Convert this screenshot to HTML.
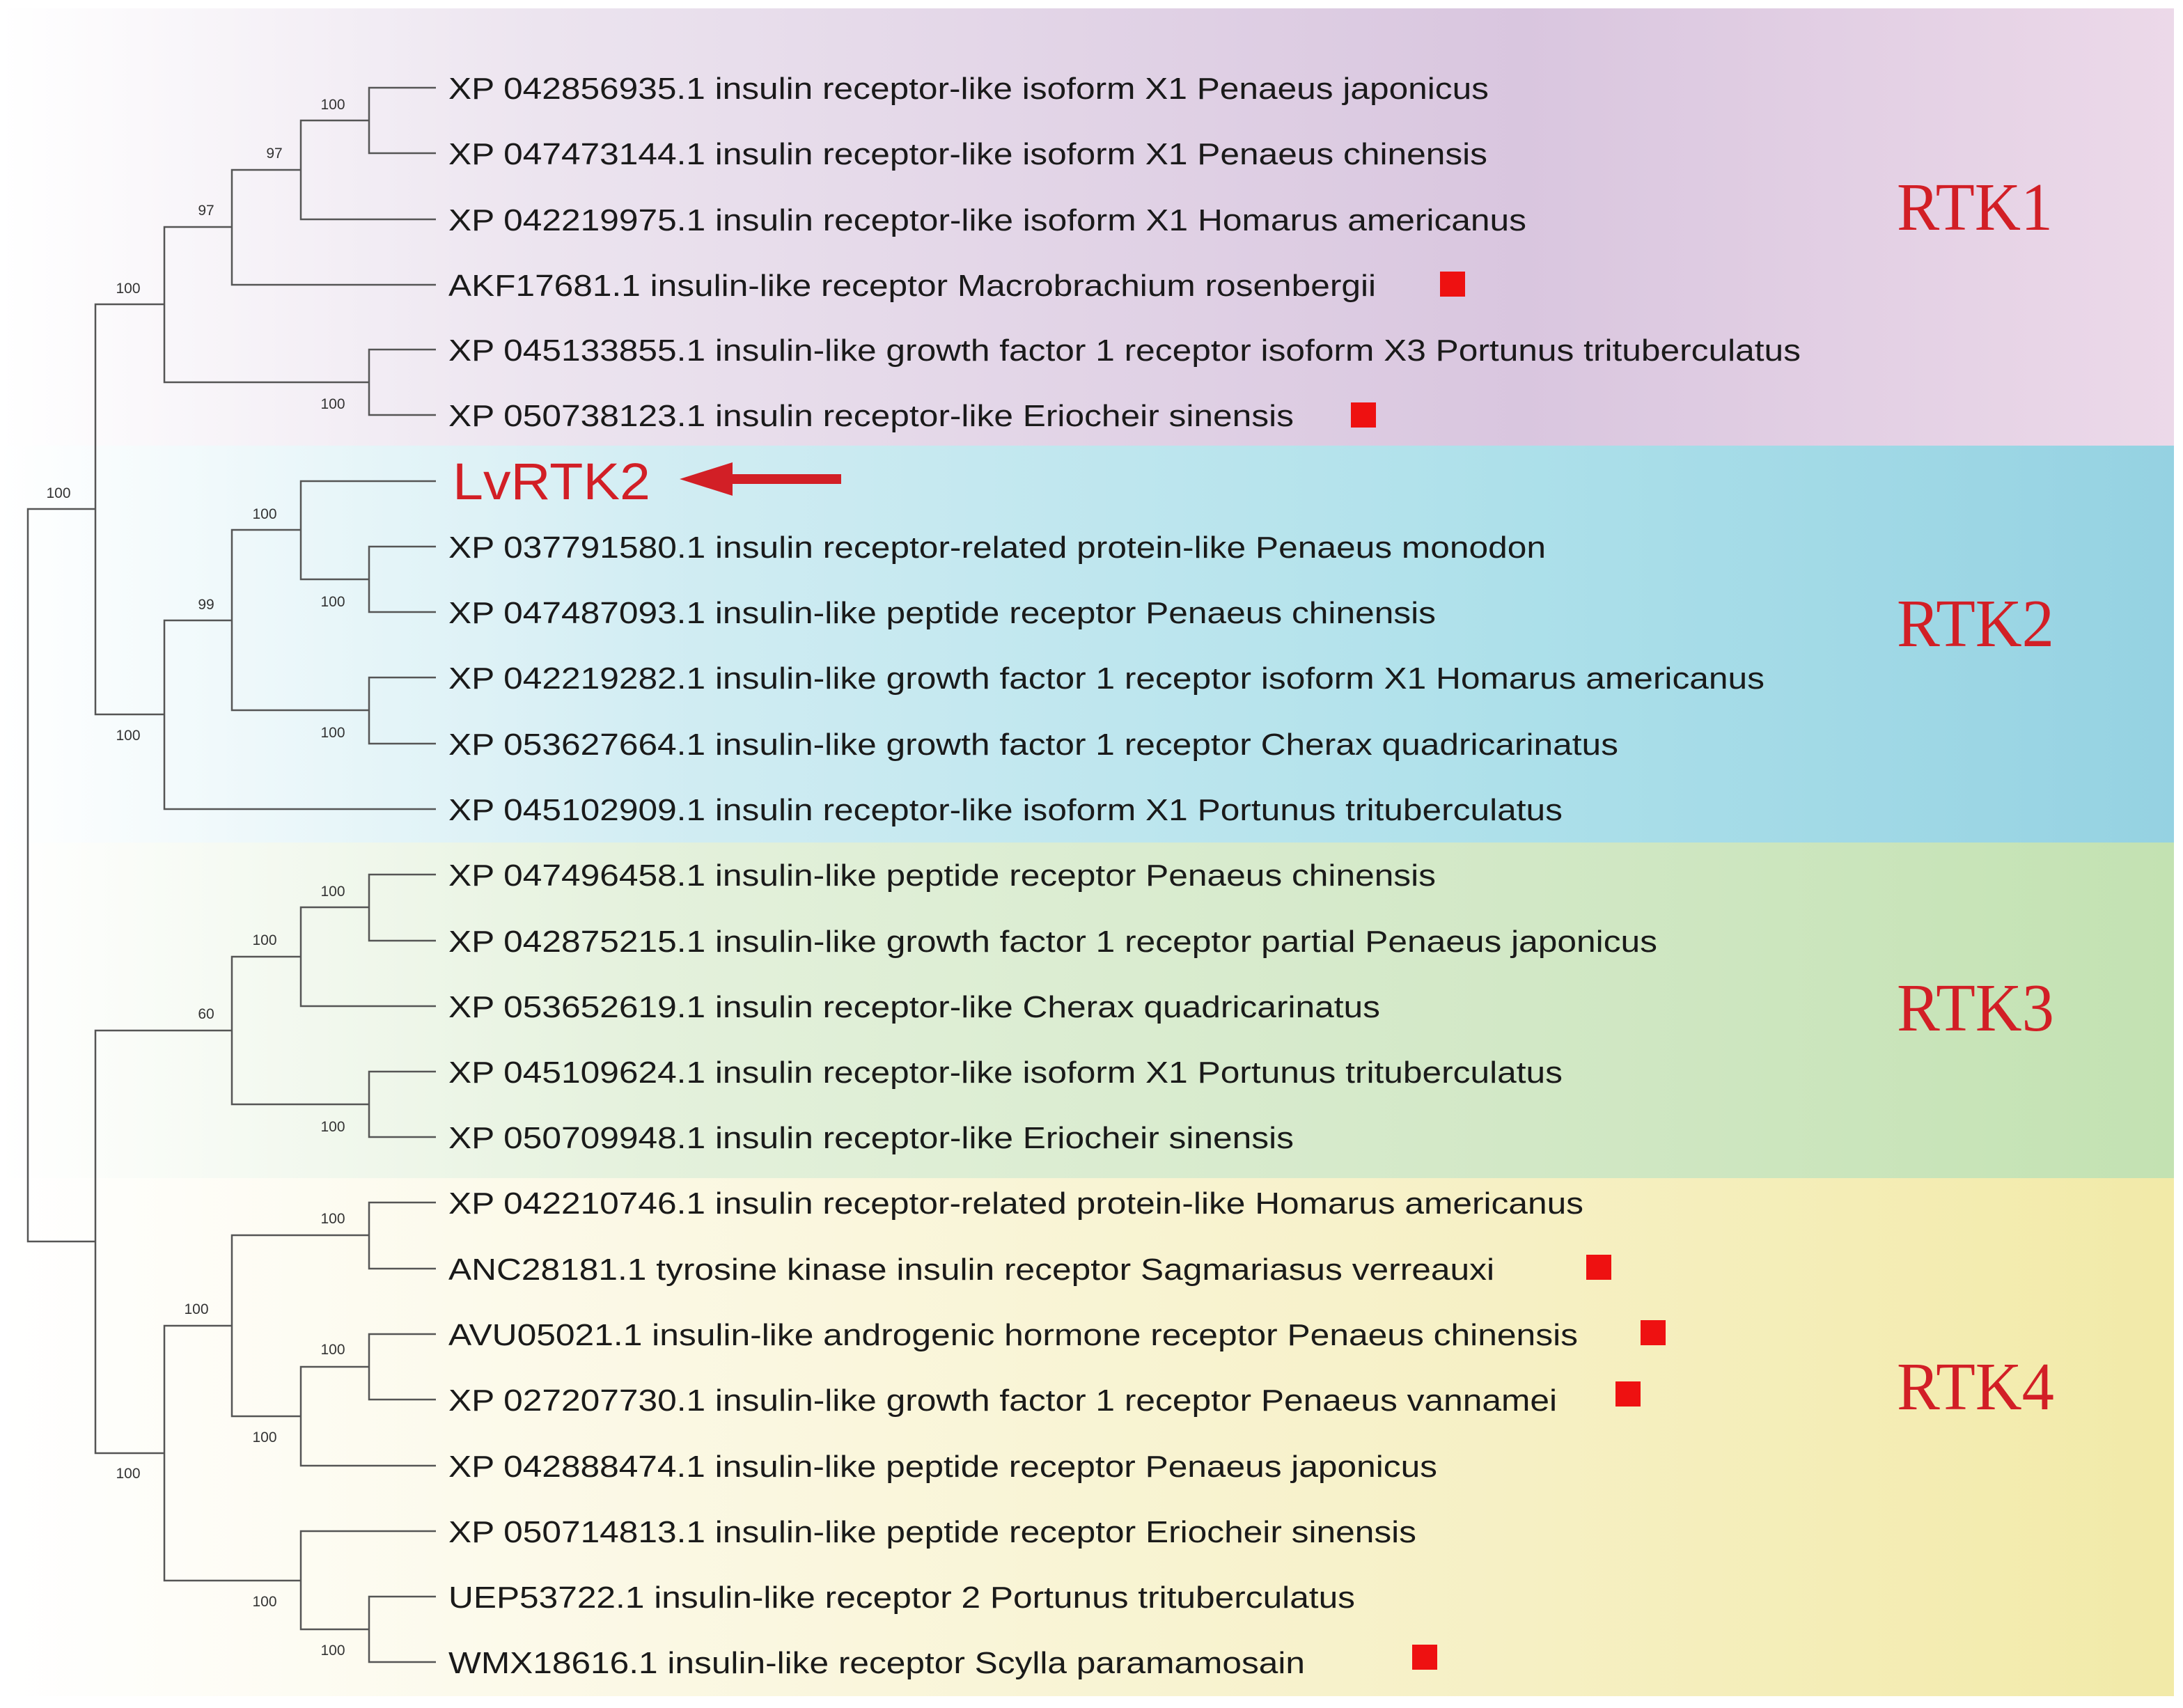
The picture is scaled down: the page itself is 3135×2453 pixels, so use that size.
<!DOCTYPE html>
<html><head><meta charset="utf-8"><style>html,body{margin:0;padding:0;background:#fff}svg{display:block}</style></head><body>
<svg width="3135" height="2453" viewBox="0 0 3135 2453" xmlns="http://www.w3.org/2000/svg">
<defs>
<linearGradient id="g1" x1="0" x2="1" y1="0" y2="0"><stop offset="0" stop-color="#ffffff"/><stop offset="0.25" stop-color="#ece4ef"/><stop offset="0.7" stop-color="#d9c6df"/><stop offset="1" stop-color="#ecd9e9"/></linearGradient>
<linearGradient id="g2" x1="0" x2="1" y1="0" y2="0"><stop offset="0" stop-color="#ffffff"/><stop offset="0.3" stop-color="#d2edf3"/><stop offset="0.7" stop-color="#ade0ea"/><stop offset="1" stop-color="#95d2e2"/></linearGradient>
<linearGradient id="g3" x1="0" x2="1" y1="0" y2="0"><stop offset="0" stop-color="#ffffff"/><stop offset="0.3" stop-color="#e4f1dc"/><stop offset="0.7" stop-color="#d2e8c6"/><stop offset="1" stop-color="#c3e2b2"/></linearGradient>
<linearGradient id="g4" x1="0" x2="1" y1="0" y2="0"><stop offset="0" stop-color="#ffffff"/><stop offset="0.3" stop-color="#fbf8e4"/><stop offset="0.7" stop-color="#f6f0c4"/><stop offset="1" stop-color="#f2eaa8"/></linearGradient>
</defs>
<rect x="0" y="12" width="3122" height="628" fill="url(#g1)"/>
<rect x="0" y="640" width="3122" height="570" fill="url(#g2)"/>
<rect x="0" y="1210" width="3122" height="482" fill="url(#g3)"/>
<rect x="0" y="1692" width="3122" height="744" fill="url(#g4)"/>

<g stroke="#555" stroke-width="2.5" fill="none">
<!-- RTK1 -->
<path d="M626 126H530V220H626"/>
<path d="M530 173H432V315H626"/>
<path d="M432 244H333V409H626"/>
<path d="M626 502H530V596H626"/>
<path d="M333 326H236V549H530"/>
<!-- RTK2 -->
<path d="M626 785H530V879H626"/>
<path d="M626 691H432V832H530"/>
<path d="M626 973H530V1068H626"/>
<path d="M432 761H333V1020H530"/>
<path d="M333 891H236V1162H626"/>
<path d="M236 437H137V1026H236"/>
<!-- RTK3 -->
<path d="M626 1256H530V1351H626"/>
<path d="M530 1303H432V1445H626"/>
<path d="M626 1539H530V1633H626"/>
<path d="M432 1374H333V1586H530"/>
<!-- RTK4 -->
<path d="M626 1727H530V1822H626"/>
<path d="M626 1916H530V2010H626"/>
<path d="M530 1963H432V2105H626"/>
<path d="M530 1774H333V2034H432"/>
<path d="M626 2293H530V2387H626"/>
<path d="M626 2199H432V2340H530"/>
<path d="M333 1904H236V2270H432"/>
<path d="M333 1480H137V2087H236"/>
<path d="M137 731H40V1783H137"/>
</g>

<g font-family="Liberation Sans, sans-serif" font-size="21" fill="#333" text-anchor="middle">
<text x="478" y="157">100</text>
<text x="394" y="227">97</text>
<text x="296" y="309">97</text>
<text x="184" y="421">100</text>
<text x="478" y="587">100</text>
<text x="84" y="715">100</text>
<text x="380" y="745">100</text>
<text x="478" y="871">100</text>
<text x="296" y="875">99</text>
<text x="478" y="1059">100</text>
<text x="184" y="1063">100</text>
<text x="478" y="1287">100</text>
<text x="380" y="1357">100</text>
<text x="296" y="1463">60</text>
<text x="478" y="1625">100</text>
<text x="478" y="1757">100</text>
<text x="282" y="1887">100</text>
<text x="478" y="1945">100</text>
<text x="380" y="2071">100</text>
<text x="184" y="2123">100</text>
<text x="380" y="2307">100</text>
<text x="478" y="2377">100</text>
</g>

<g font-family="Liberation Sans, sans-serif" font-size="44" fill="#1a1a1a" lengthAdjust="spacingAndGlyphs">
<text x="644" y="142" textLength="1494" lengthAdjust="spacingAndGlyphs">XP 042856935.1 insulin receptor-like isoform X1 Penaeus japonicus</text>
<text x="644" y="236" textLength="1492" lengthAdjust="spacingAndGlyphs">XP 047473144.1 insulin receptor-like isoform X1 Penaeus chinensis</text>
<text x="644" y="331" textLength="1548" lengthAdjust="spacingAndGlyphs">XP 042219975.1 insulin receptor-like isoform X1 Homarus americanus</text>
<text x="644" y="425" textLength="1332" lengthAdjust="spacingAndGlyphs">AKF17681.1 insulin-like receptor Macrobrachium rosenbergii</text>
<text x="644" y="518" textLength="1942" lengthAdjust="spacingAndGlyphs">XP 045133855.1 insulin-like growth factor 1 receptor isoform X3 Portunus trituberculatus</text>
<text x="644" y="612" textLength="1214" lengthAdjust="spacingAndGlyphs">XP 050738123.1 insulin receptor-like Eriocheir sinensis</text>
<text x="644" y="801" textLength="1576" lengthAdjust="spacingAndGlyphs">XP 037791580.1 insulin receptor-related protein-like Penaeus monodon</text>
<text x="644" y="895" textLength="1418" lengthAdjust="spacingAndGlyphs">XP 047487093.1 insulin-like peptide receptor Penaeus chinensis</text>
<text x="644" y="989" textLength="1890" lengthAdjust="spacingAndGlyphs">XP 042219282.1 insulin-like growth factor 1 receptor isoform X1 Homarus americanus</text>
<text x="644" y="1084" textLength="1680" lengthAdjust="spacingAndGlyphs">XP 053627664.1 insulin-like growth factor 1 receptor Cherax quadricarinatus</text>
<text x="644" y="1178" textLength="1600" lengthAdjust="spacingAndGlyphs">XP 045102909.1 insulin receptor-like isoform X1 Portunus trituberculatus</text>
<text x="644" y="1272" textLength="1418" lengthAdjust="spacingAndGlyphs">XP 047496458.1 insulin-like peptide receptor Penaeus chinensis</text>
<text x="644" y="1367" textLength="1736" lengthAdjust="spacingAndGlyphs">XP 042875215.1 insulin-like growth factor 1 receptor partial Penaeus japonicus</text>
<text x="644" y="1461" textLength="1338" lengthAdjust="spacingAndGlyphs">XP 053652619.1 insulin receptor-like Cherax quadricarinatus</text>
<text x="644" y="1555" textLength="1600" lengthAdjust="spacingAndGlyphs">XP 045109624.1 insulin receptor-like isoform X1 Portunus trituberculatus</text>
<text x="644" y="1649" textLength="1214" lengthAdjust="spacingAndGlyphs">XP 050709948.1 insulin receptor-like Eriocheir sinensis</text>
<text x="644" y="1743" textLength="1630" lengthAdjust="spacingAndGlyphs">XP 042210746.1 insulin receptor-related protein-like Homarus americanus</text>
<text x="644" y="1838" textLength="1502" lengthAdjust="spacingAndGlyphs">ANC28181.1 tyrosine kinase insulin receptor Sagmariasus verreauxi</text>
<text x="644" y="1932" textLength="1622" lengthAdjust="spacingAndGlyphs">AVU05021.1 insulin-like androgenic hormone receptor Penaeus chinensis</text>
<text x="644" y="2026" textLength="1592" lengthAdjust="spacingAndGlyphs">XP 027207730.1 insulin-like growth factor 1 receptor Penaeus vannamei</text>
<text x="644" y="2121" textLength="1420" lengthAdjust="spacingAndGlyphs">XP 042888474.1 insulin-like peptide receptor Penaeus japonicus</text>
<text x="644" y="2215" textLength="1390" lengthAdjust="spacingAndGlyphs">XP 050714813.1 insulin-like peptide receptor Eriocheir sinensis</text>
<text x="644" y="2309" textLength="1302" lengthAdjust="spacingAndGlyphs">UEP53722.1 insulin-like receptor 2 Portunus trituberculatus</text>
<text x="644" y="2403" textLength="1230" lengthAdjust="spacingAndGlyphs">WMX18616.1 insulin-like receptor Scylla paramamosain</text>
</g>

<text x="650" y="717" font-family="Liberation Sans, sans-serif" font-size="74" fill="#d21f26" textLength="284" lengthAdjust="spacingAndGlyphs">LvRTK2</text>
<path d="M976 688L1052 664V681H1208V695H1052V712Z" fill="#d21f26"/>

<g fill="#ee1111">
<rect x="2068" y="390" width="36" height="36"/>
<rect x="1940" y="578" width="36" height="36"/>
<rect x="2278" y="1802" width="36" height="36"/>
<rect x="2356" y="1896" width="36" height="36"/>
<rect x="2320" y="1984" width="36" height="36"/>
<rect x="2028" y="2362" width="36" height="36"/>
</g>

<g font-family="Liberation Serif, serif" font-size="98" fill="#d21f26">
<text x="2724" y="330" textLength="224" lengthAdjust="spacingAndGlyphs">RTK1</text>
<text x="2724" y="928" textLength="226" lengthAdjust="spacingAndGlyphs">RTK2</text>
<text x="2724" y="1480" textLength="226" lengthAdjust="spacingAndGlyphs">RTK3</text>
<text x="2724" y="2024" textLength="226" lengthAdjust="spacingAndGlyphs">RTK4</text>
</g>
</svg>
</body></html>
